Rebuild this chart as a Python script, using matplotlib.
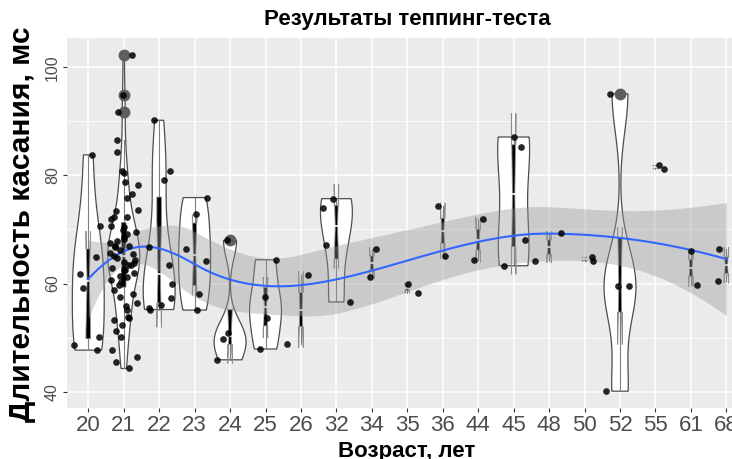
"""Tapping test results: violins + notched boxes + jitter + loess smooth."""
import numpy as np
import matplotlib
matplotlib.use("Agg")
import matplotlib.pyplot as plt
from matplotlib.patches import Polygon

plt.rcParams['font.family'] = ['Liberation Sans', 'DejaVu Sans']

# tap durations (ms) per age group
t20 = [83.8, 70.6, 65.0, 61.7, 59.2, 50.2, 48.6, 47.7]
t21 = [102.3, 94.9, 91.7, 86.6, 84.4, 80.8, 80.5, 78.8, 78.3, 76.5, 75.9, 73.6, 73.5,
       72.3, 72.3, 72.0, 70.6, 70.5, 69.9, 69.5, 69.1, 68.6, 68.2, 67.8, 67.5, 67.0,
       66.9, 66.8, 66.2, 65.7, 65.4, 65.1, 64.7, 64.3, 63.9, 63.8, 63.5, 63.5, 62.9,
       62.6, 62.5, 62.0, 61.4, 61.2, 60.7, 60.2, 59.8, 58.9, 58.0, 57.6, 56.4, 55.8,
       55.2, 53.9, 53.6, 53.3, 52.3, 51.2, 50.2, 47.8, 46.4, 45.5, 44.3]
t22 = [90.2, 80.8, 79.1, 66.7, 63.4, 60.0, 57.3, 56.1, 55.5, 55.2]
t23 = [75.9, 72.8, 66.4, 64.2, 58.1, 55.1]
t24 = [68.0, 50.9, 49.7, 45.9]
t25 = [64.4, 57.6, 53.6, 47.9]
t26 = [61.5, 48.9]
t32 = [75.7, 74.0, 67.2, 56.6]
t34 = [66.4, 61.2]
t35 = [60.0, 58.3]
t36 = [74.4, 65.1]
t44 = [71.9, 64.3]
t45 = [87.1, 85.2, 68.0, 63.3]
t48 = [69.4, 64.1]
t50 = [64.9, 64.1]
t52 = [95.1, 59.6, 59.6, 40.1]
t55 = [81.9, 81.2]
t61 = [66.0, 59.8]
t68 = [66.4, 60.4]

ages = ["20", "21", "22", "23", "24", "25", "26", "32", "34", "35", "36", "44", "45",
        "48", "50", "52", "55", "61", "68"]
groups = [t20, t21, t22, t23, t24, t25, t26, t32, t34, t35, t36, t44, t45,
          t48, t50, t52, t55, t61, t68]
y_ticks = [40, 60, 80, 100]


def bw_nrd0(v):
    q1, q3 = np.percentile(v, [25, 75])
    lo = min(np.std(v, ddof=1), (q3 - q1) / 1.34)
    return 0.9 * lo * len(v) ** -0.2


def local_fit(x, x0, q):
    """Rows giving value and slope of local quadratic fit at x0."""
    n = len(x)
    d = np.abs(x - x0)
    h = np.sort(d)[q - 1]
    w = np.clip(1 - (d / h) ** 3, 0, None) ** 3
    X = np.column_stack([np.ones(n), x - x0, (x - x0) ** 2])
    W = X * w[:, None]
    B = np.linalg.solve(X.T @ W, W.T)
    return B[0], B[1]


def kd_vertices(xsorted, fc):
    """1-d version of loess' kd tree: cell boundaries used as vertices."""
    n = len(xsorted)
    mu = 0.005 * (xsorted[-1] - xsorted[0])
    verts = {xsorted[0] - mu, xsorted[-1] + mu}
    cells = [(0, n - 1, xsorted[0] - mu, xsorted[-1] + mu)]
    while cells:
        l, u, a, b = cells.pop()
        if u - l + 1 <= fc:
            continue
        m = (l + u) // 2
        off = 0
        while l <= m + off < u:
            if xsorted[m + off] == xsorted[m + off + 1]:
                off = -off
                if off >= 0:
                    off += 1
            else:
                m = m + off
                break
        t = xsorted[m]
        if t == a or t == b:
            continue
        verts.add(t)
        cells.append((l, m, a, t))
        cells.append((m + 1, u, t, b))
    return np.array(sorted(verts))


def loess_operator(x, xs, span=0.75, cell=0.2):
    n = len(x)
    q = int(np.floor(n * span + 1e-5))
    verts = kd_vertices(np.sort(x), int(np.floor(n * span * cell)))
    vals, slopes = zip(*[local_fit(x, v, q) for v in verts])
    vals, slopes = np.array(vals), np.array(slopes)
    L = np.zeros((len(xs), n))
    for k, x0 in enumerate(xs):
        j = min(np.searchsorted(verts, x0, side='right') - 1, len(verts) - 2)
        h = verts[j + 1] - verts[j]
        t = (x0 - verts[j]) / h
        L[k] = ((1 - t) ** 2 * (1 + 2 * t) * vals[j] + t ** 2 * (3 - 2 * t) * vals[j + 1]
                + h * (t * (1 - t) ** 2 * slopes[j] - t ** 2 * (1 - t) * slopes[j + 1]))
    return L


def t_quantile(df, z=1.959964):
    return z + (z ** 3 + z) / (4 * df) + (5 * z ** 5 + 16 * z ** 3 + 3 * z) / (96 * df ** 2)


fig = plt.figure(figsize=(7.32, 4.59), dpi=100)
ax = fig.add_axes([67 / 732, 51 / 459, 680.6 / 732, 370 / 459])
ax.set_facecolor('#EBEBEB')
for s in ax.spines.values():
    s.set_visible(False)

rng = np.random.default_rng(7)
box_w = 0.13
all_x, all_y = [], []
for i, vals in enumerate(groups):
    pos = i + 1
    v = np.array(vals, dtype=float)
    all_x += [pos] * len(v)
    all_y += list(v)

    # violin (width-scaled, trimmed)
    if len(v) >= 3:
        bw = bw_nrd0(v)
        yy = np.linspace(v.min(), v.max(), 512)
        dens = np.exp(-0.5 * ((yy[:, None] - v[None, :]) / bw) ** 2).sum(axis=1)
        hw = 0.45 * dens / dens.max()
        px = np.concatenate([pos - hw, (pos + hw)[::-1]])
        py = np.concatenate([yy, yy[::-1]])
        ax.add_patch(Polygon(np.column_stack([px, py]), closed=True, facecolor='white',
                             edgecolor='#4d4d4d', lw=0.9, zorder=2))

    # notched box
    q1, med, q3 = np.percentile(v, [25, 50, 75])
    iqr = q3 - q1
    upper = v[v <= q3 + 1.5 * iqr].max()
    lower = v[v >= q1 - 1.5 * iqr].min()
    nu = med + 1.58 * iqr / np.sqrt(len(v))
    nl = med - 1.58 * iqr / np.sqrt(len(v))
    xmin, xmax = pos - box_w / 2, pos + box_w / 2
    ind = 0.5 * (xmax - xmin) / 2
    ax.plot([pos, pos], [q3, upper], color='#7f7f7f', lw=0.8, zorder=3)
    ax.plot([pos, pos], [q1, lower], color='#7f7f7f', lw=0.8, zorder=3)
    bx = [xmin, xmin, xmin + ind, xmin, xmin, xmax, xmax, xmax - ind, xmax, xmax, xmin]
    by = [q3, nu, med, nl, q1, q1, nl, med, nu, q3, q3]
    ax.add_patch(Polygon(np.column_stack([bx, by]), closed=True, facecolor='black',
                         edgecolor='#8c8c8c', lw=0.6, zorder=3))
    ax.plot([xmin + ind, xmax - ind], [med, med], color='white', lw=1.2, zorder=3.5)
    out = v[(v > upper) | (v < lower)]
    ax.plot([pos] * len(out), out, 'o', color='#5e5e5e', ms=8.5, mec='none', zorder=3.6)

    # jittered points
    jx = pos + rng.uniform(-0.4, 0.4, len(v))
    ax.plot(jx, v, 'o', color='black', ms=4.8, mec='none', alpha=0.85, zorder=6)

# loess smooth with 95% band
x = np.array(all_x, dtype=float)
y = np.array(all_y)
xs = np.linspace(1, len(ages), 120)
Ld = loess_operator(x, x)
R = np.eye(len(x)) - Ld
RR = R.T @ R
d1 = np.trace(RR)
d2 = np.trace(RR @ RR)
s = np.sqrt(np.sum((R @ y) ** 2) / d1)
Lg = loess_operator(x, xs)
fit = Lg @ y
se = s * np.sqrt((Lg ** 2).sum(axis=1))
tq = t_quantile(d1 ** 2 / d2)
ax.fill_between(xs, fit - tq * se, fit + tq * se, color='#999999', alpha=0.4, lw=0, zorder=4)
ax.plot(xs, fit, color='#3366FF', lw=1.5, zorder=5)

lo_y = min(y.min(), (fit - tq * se).min())
hi_y = max(y.max(), (fit + tq * se).max())
ax.set_ylim(lo_y - 0.05 * (hi_y - lo_y), hi_y + 0.05 * (hi_y - lo_y))
ax.set_xlim(0.4, len(ages) + 0.6)

ax.set_xticks(range(1, len(ages) + 1))
ax.set_xticklabels(ages, fontsize=16, color='#4d4d4d')
ax.set_yticks(y_ticks)
ax.set_yticklabels([str(t) for t in y_ticks], fontsize=11.5, color='#4d4d4d',
                   rotation=90, va='center')
ax.set_yticks([50, 70, 90], minor=True)
ax.tick_params(axis='both', which='major', length=3, width=0.8, color='#333333', pad=2)
ax.tick_params(axis='y', which='minor', length=0)
ax.grid(True, which='major', color='white', lw=1.1)
ax.grid(True, which='minor', axis='y', color='white', lw=0.6)
ax.set_axisbelow(True)

fig.text(407 / 732, 1 - 19 / 459, "Результаты теппинг-теста", fontsize=16,
         fontweight='bold', ha='center', va='center')
fig.text(407 / 732, 1 - 452 / 459, "Возраст, лет", fontsize=16,
         fontweight='bold', ha='center', va='center')
fig.text(22 / 732, 1 - 224 / 459, "Длительность касания, мс", fontsize=21.5,
         fontweight='bold', ha='center', va='center', rotation=90)

fig.savefig("out.png", dpi=100)
